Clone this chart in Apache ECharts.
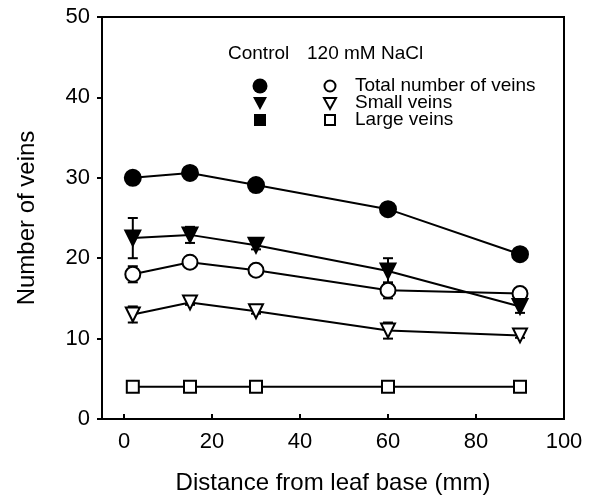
<!DOCTYPE html>
<html><head><meta charset="utf-8">
<script src="https://cdn.jsdelivr.net/npm/echarts@6/dist/echarts.min.js"></script>
<style>html,body{margin:0;padding:0;background:#fff}#c{width:590px;height:500px}</style>
</head><body><div id="c"></div>
<script>
var distances = [2, 15, 30, 60, 90];
var ctrlTotal = [30, 30.6, 29.1, 26.1, 20.5];
var ctrlTotalErr = [0.3, 0.3, 0.3, 0.3, 0.3];
var ctrlSmall = [22.5, 22.9, 21.6, 18.4, 14.0];
var ctrlSmallErr = [2.5, 1.0, 0.5, 1.6, 0.8];
var naclTotal = [18.0, 19.5, 18.5, 16.0, 15.6];
var naclTotalErr = [1.0, 0.4, 0.4, 1.0, 0.4];
var naclSmall = [13.0, 14.5, 13.4, 11.0, 10.4];
var naclSmallErr = [1.0, 0.3, 0.3, 1.0, 0.3];
var naclLarge = [4, 4, 4, 4, 4];
var xTicks = [0, 20, 40, 60, 80, 100];
var legendHeader = ['Control', '120 mM NaCl'];
var legendLabels = ['Total number of veins', 'Small veins', 'Large veins'];

var FONT = 'Liberation Sans, Arial, sans-serif';
function pts(ys) { return distances.map(function (x, i) { return [x, ys[i]]; }); }
function errData(ys, es) { return distances.map(function (x, i) { return [x, ys[i] - es[i], ys[i] + es[i]]; }); }

function errSeries(ys, es) {
  return {
    type: 'custom', z: 1, silent: true,
    data: errData(ys, es),
    renderItem: function (params, api) {
      var x = api.value(0);
      var lo = api.coord([x, api.value(1)]);
      var hi = api.coord([x, api.value(2)]);
      var w = 5;
      var st = { stroke: '#000', lineWidth: 2 };
      return { type: 'group', children: [
        { type: 'line', shape: { x1: lo[0], y1: lo[1], x2: hi[0], y2: hi[1] }, style: st },
        { type: 'line', shape: { x1: lo[0] - w, y1: lo[1], x2: lo[0] + w, y2: lo[1] }, style: st },
        { type: 'line', shape: { x1: hi[0] - w, y1: hi[1], x2: hi[0] + w, y2: hi[1] }, style: st }
      ]};
    }
  };
}
function lineSeries(name, ys, symbol, size, filled, rotate) {
  return {
    name: name, type: 'line', z: 3,
    data: pts(ys),
    symbol: symbol, symbolSize: size, symbolRotate: rotate || 0,
    showAllSymbol: true,
    lineStyle: { color: '#000', width: 2 },
    itemStyle: { color: filled ? '#000' : '#fff', borderColor: '#000', borderWidth: 2 },
    emphasis: { disabled: true },
    animation: false
  };
}

var chart = echarts.init(document.getElementById('c'));

var lx1 = 260, lx2 = 330, ltx = 355;
var rows = [86, 103, 120];
var LF = '19px ' + FONT;
var graphics = [
  { type: 'text', left: 228, top: 54 - 10, style: { text: legendHeader[0], font: LF, fill: '#000' } },
  { type: 'text', left: 307, top: 54 - 10, style: { text: legendHeader[1], font: LF, fill: '#000' } }
];
legendLabels.forEach(function (t, i) {
  graphics.push({ type: 'text', left: ltx, top: rows[i] - 10, style: { text: t, font: LF, fill: '#000' } });
});
graphics.push({ type: 'circle', shape: { cx: lx1, cy: rows[0], r: 7.5 }, style: { fill: '#000' } });
graphics.push({ type: 'circle', shape: { cx: lx2, cy: rows[0], r: 5.5 }, style: { fill: '#fff', stroke: '#000', lineWidth: 2 } });
graphics.push({ type: 'polygon', shape: { points: [[lx1 - 7, rows[1] - 6], [lx1 + 7, rows[1] - 6], [lx1, rows[1] + 7]] }, style: { fill: '#000' } });
graphics.push({ type: 'polygon', shape: { points: [[lx2 - 6, rows[1] - 5], [lx2 + 6, rows[1] - 5], [lx2, rows[1] + 6]] }, style: { fill: '#fff', stroke: '#000', lineWidth: 2 } });
graphics.push({ type: 'rect', shape: { x: lx1 - 6, y: rows[2] - 6, width: 12, height: 12 }, style: { fill: '#000' } });
graphics.push({ type: 'rect', shape: { x: lx2 - 5, y: rows[2] - 5, width: 10, height: 10 }, style: { fill: '#fff', stroke: '#000', lineWidth: 2 } });

chart.setOption({
  animation: false,
  backgroundColor: '#fff',
  textStyle: { fontFamily: FONT },
  grid: { left: 102, right: 26, top: 17, bottom: 79, show: true, borderColor: '#000', borderWidth: 2 },
  xAxis: {
    type: 'value', min: -5, max: 100,
    name: 'Distance from leaf base (mm)', nameLocation: 'middle', nameGap: 52,
    nameTextStyle: { fontSize: 24, color: '#000', fontFamily: FONT },
    axisLine: { show: true, onZero: false, lineStyle: { color: '#000', width: 2 } },
    axisTick: { show: true, inside: true, length: 5, customValues: xTicks, lineStyle: { color: '#000', width: 2 } },
    axisLabel: { customValues: xTicks, fontSize: 22, color: '#000', margin: 12, fontFamily: FONT },
    splitLine: { show: false }
  },
  yAxis: {
    type: 'value', min: 0, max: 50, interval: 10,
    name: 'Number of veins', nameLocation: 'middle', nameGap: 63,
    nameTextStyle: { fontSize: 24, color: '#000', fontFamily: FONT },
    axisLine: { show: true, onZero: false, lineStyle: { color: '#000', width: 2 } },
    axisTick: { show: true, inside: false, length: 5, lineStyle: { color: '#000', width: 2 } },
    axisLabel: { fontSize: 22, color: '#000', margin: 12, fontFamily: FONT },
    splitLine: { show: false }
  },
  graphic: graphics,
  series: [
    errSeries(ctrlTotal, ctrlTotalErr),
    errSeries(ctrlSmall, ctrlSmallErr),
    errSeries(naclTotal, naclTotalErr),
    errSeries(naclSmall, naclSmallErr),
    lineSeries('Large veins (NaCl)', naclLarge, 'rect', 12, false),
    lineSeries('Small veins (NaCl)', naclSmall, 'triangle', 14, false, 180),
    lineSeries('Total (NaCl)', naclTotal, 'circle', 15, false),
    lineSeries('Small veins (Control)', ctrlSmall, 'triangle', 15, true, 180),
    lineSeries('Total (Control)', ctrlTotal, 'circle', 16, true)
  ]
});
</script></body></html>
